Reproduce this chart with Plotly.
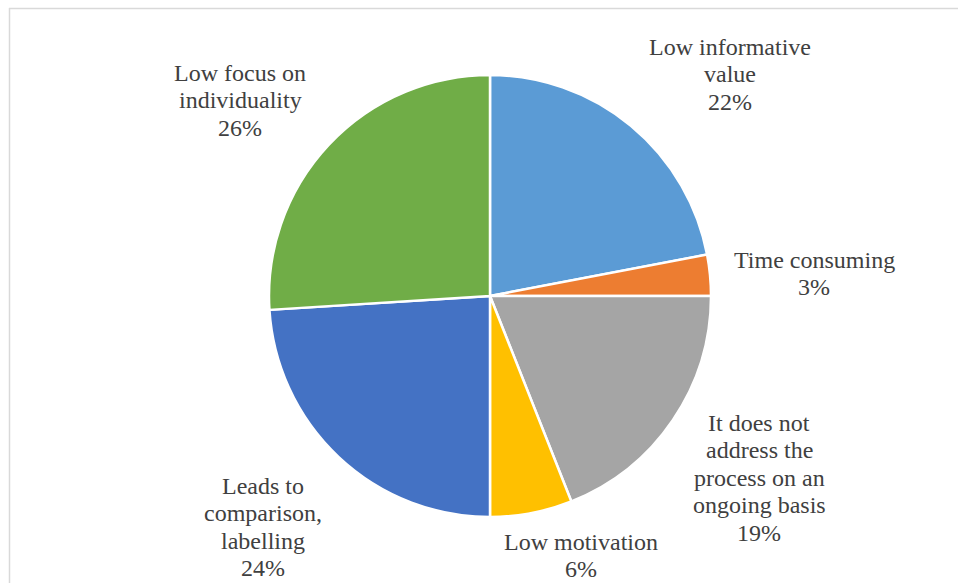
import plotly.graph_objects as go

# Reasons, in clockwise order from 12 o'clock; "<br>" marks where a label wraps
categories = [
    "Low informative<br>value",
    "Time consuming",
    "It does not<br>address the<br>process on an<br>ongoing basis",
    "Low motivation",
    "Leads to<br>comparison,<br>labelling",
    "Low focus on<br>individuality",
]
shares = [22, 3, 19, 6, 24, 26]
colors = ["#5B9BD5", "#ED7D31", "#A5A5A5", "#FFC000", "#4472C4", "#70AD47"]

# Label block centres in pixels (x, y of first line)
label_pos = [(730, 47), (814, 260), (759, 423), (581, 542), (263, 486), (240, 73)]

W, H = 958, 583
LINE = 27.4
cx, cy, r = 490, 296, 221

fig = go.Figure(go.Pie(
    labels=[c.replace("<br>", " ") for c in categories],
    values=shares,
    sort=False,
    direction="clockwise",
    rotation=0,
    marker=dict(colors=colors, line=dict(color="white", width=2.5)),
    textinfo="none",
    hoverinfo="label+percent",
    showlegend=False,
    domain=dict(x=[(cx - r) / W, (cx + r) / W],
                y=[(H - cy - r) / H, (H - cy + r) / H]),
))

annotations = []
for cat, val, (x, y0) in zip(categories, shares, label_pos):
    lines = cat.split("<br>") + [f"{val}%"]
    for i, line in enumerate(lines):
        annotations.append(dict(
            text=line, x=x / W, y=1 - (y0 + i * LINE) / H,
            xref="paper", yref="paper", xanchor="center", yanchor="middle",
            showarrow=False,
            font=dict(family="Liberation Serif", size=24, color="#404040"),
        ))

border = "#D9D9D9"
shapes = [
    dict(type="line", xref="paper", yref="paper",
         x0=9 / W, x1=1, y0=1 - 8.5 / H, y1=1 - 8.5 / H,
         line=dict(color=border, width=1.5)),
    dict(type="line", xref="paper", yref="paper",
         x0=9.5 / W, x1=9.5 / W, y0=1 - 8 / H, y1=0,
         line=dict(color=border, width=1.5)),
]

fig.update_layout(
    width=W, height=H,
    margin=dict(l=0, r=0, t=0, b=0),
    paper_bgcolor="white", plot_bgcolor="white",
    annotations=annotations, shapes=shapes,
)

fig.write_html("out.html")
